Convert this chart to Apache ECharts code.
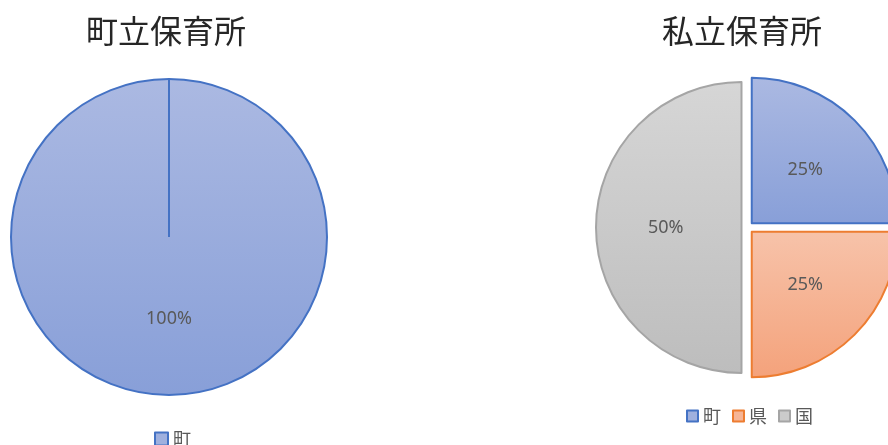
<!DOCTYPE html>
<html>
<head>
<meta charset="utf-8">
<script src="https://cdn.jsdelivr.net/npm/echarts@6/dist/echarts.min.js"></script>
<style>html,body{margin:0;padding:0;background:#fff}#c{width:888px;height:445px}</style>
</head>
<body>
<div id="c"></div>
<script>
// ---- data ----
const leftTitle = '町立保育所';
const rightTitle = '私立保育所';
const leftCategories = ['町'];
const leftValues = [100];
const rightCategories = ['町', '県', '国'];
const rightValues = [25, 25, 50];

// ---- styles ----
const palette = {
  '町': { top: '#abb9e2', bottom: '#889fd8', border: '#4472c4', legend: '#9fb0de' },
  '県': { top: '#f7c3aa', bottom: '#f4a27b', border: '#ed7d31', legend: '#f6b596' },
  '国': { top: '#d6d6d6', bottom: '#bdbdbd', border: '#a5a5a5', legend: '#cbcbcb' }
};
const LEFT_CENTER = [169, 237];
const LEFT_R = 158;
const RIGHT_CENTER = [747.5, 227.5];
const RIGHT_R = 145.5;
const EXPLODE = 6;

function grad(name) {
  const p = palette[name];
  return new echarts.graphic.LinearGradient(0, 0, 0, 1, [
    { offset: 0, color: p.top }, { offset: 1, color: p.bottom }
  ]);
}
function item(name, value, selected) {
  const st = { color: grad(name), borderColor: palette[name].border, borderWidth: 2 };
  return { name, value, selected: !!selected, itemStyle: st, select: { itemStyle: st }, emphasis: { itemStyle: st } };
}
const labelStyle = {
  show: true, position: 'inside', formatter: '{d}%',
  color: '#595959', fontSize: 18, fontFamily: 'Noto Sans'
};
const titleStyle = { fontFamily: 'Noto Sans CJK JP', fontSize: 32, fontWeight: 'normal', color: '#262626' };
const legendText = { color: '#595959', fontSize: 18, fontFamily: 'Noto Sans CJK JP' };

const chart = echarts.init(document.getElementById('c'), null, { renderer: 'canvas' });
chart.setOption({
  animation: false,
  backgroundColor: '#ffffff',
  title: [
    { text: leftTitle, left: 161, top: 10, textAlign: 'center', textStyle: titleStyle },
    { text: rightTitle, left: 737, top: 10, textAlign: 'center', textStyle: titleStyle }
  ],
  legend: [
    { data: leftCategories.map(n => ({ name: n, itemStyle: { color: palette[n].legend, borderColor: palette[n].border, borderWidth: 2 } })),
      left: 149, top: 425, icon: 'rect', itemWidth: 13, itemHeight: 13, itemGap: 12,
      textStyle: legendText, selectedMode: false },
    { data: rightCategories.map(n => ({ name: n, itemStyle: { color: palette[n].legend, borderColor: palette[n].border, borderWidth: 2 } })),
      left: 681, top: 402, icon: 'rect', itemWidth: 11, itemHeight: 11, itemGap: 11,
      textStyle: legendText, selectedMode: false }
  ],
  series: [
    { type: 'pie', name: leftTitle, center: LEFT_CENTER, radius: LEFT_R, startAngle: 90, clockwise: true,
      avoidLabelOverlap: false, label: labelStyle, labelLine: { show: false },
      emphasis: { disabled: true }, silent: true,
      data: leftCategories.map((n, i) => item(n, leftValues[i], false)) },
    { type: 'pie', name: rightTitle, center: RIGHT_CENTER, radius: RIGHT_R, startAngle: 90, clockwise: true,
      selectedMode: 'multiple', selectedOffset: EXPLODE,
      avoidLabelOverlap: false, label: labelStyle, labelLine: { show: false },
      emphasis: { disabled: true }, silent: true,
      data: rightCategories.map((n, i) => item(n, rightValues[i], true)) }
  ],
  graphic: [
    { type: 'line', silent: true, z: 100,
      shape: { x1: LEFT_CENTER[0], y1: LEFT_CENTER[1], x2: LEFT_CENTER[0], y2: LEFT_CENTER[1] - LEFT_R },
      style: { stroke: palette['町'].border, lineWidth: 2 } }
  ]
});
</script>
</body>
</html>
